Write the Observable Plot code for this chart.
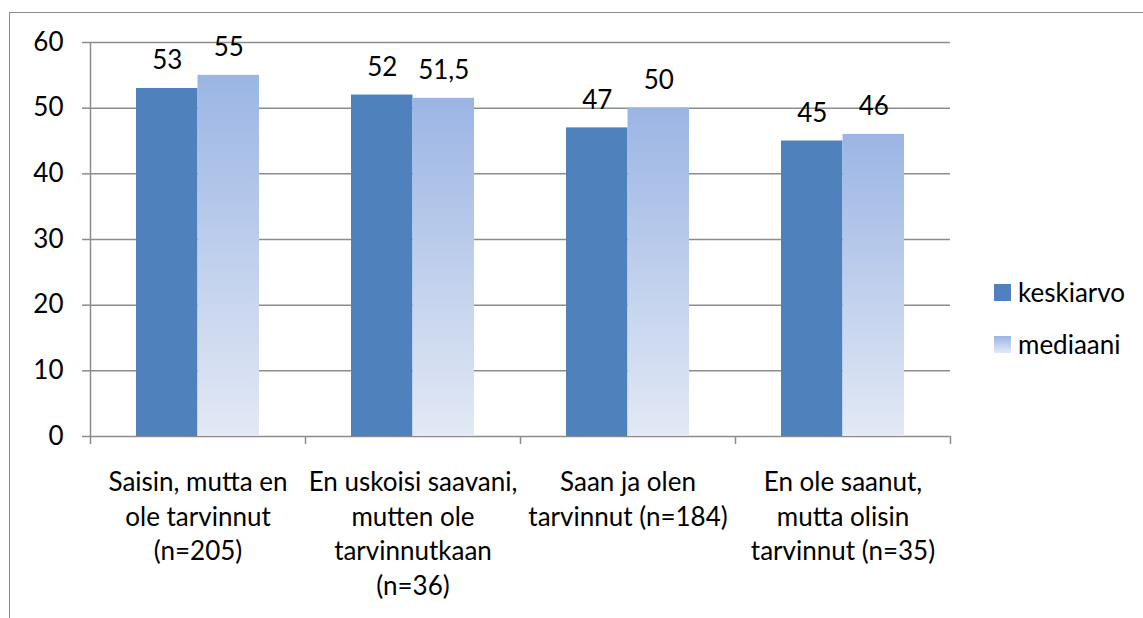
<!DOCTYPE html>
<html>
<head>
<meta charset="utf-8">
<script src="https://cdn.jsdelivr.net/npm/d3@7"></script>
<script src="https://cdn.jsdelivr.net/npm/@observablehq/plot@0.6"></script>
<style>
  html, body { margin: 0; padding: 0; background: #fff; }
  #wrap { position: relative; width: 1143px; height: 618px; overflow: hidden; font-family: Lato, "Open Sans", sans-serif; }
  #frame { position: absolute; left: 9px; top: 12px; right: -10px; bottom: -10px; border-top: 1.5px solid #8c8c8c; border-left: 1.5px solid #8c8c8c; pointer-events: none; }
  #legend { position: absolute; left: 994px; top: 278px; font-size: 26px; color: #000; }
  .li { display: flex; align-items: center; height: 28px; margin-bottom: 24px; }
  .sw { width: 17px; height: 17px; margin-right: 7px; }
</style>
</head>
<body>
<div id="wrap">
  <div id="chart"></div>
  <div id="frame"></div>
  <div id="legend"></div>
</div>
<script>
const categories = [
  "Saisin, mutta en\nole tarvinnut\n(n=205)",
  "En uskoisi saavani,\nmutten ole\ntarvinnutkaan\n(n=36)",
  "Saan ja olen\ntarvinnut (n=184)",
  "En ole saanut,\nmutta olisin\ntarvinnut (n=35)"
];
const series = ["keskiarvo", "mediaani"];
const keskiarvo = [53, 52, 47, 45];
const mediaani = [55, 51.5, 50, 46];
const valueLabels = {
  keskiarvo: ["53", "52", "47", "45"],
  mediaani: ["55", "51,5", "50", "46"]
};
const yTicks = [0, 10, 20, 30, 40, 50, 60];

const colors = { keskiarvo: "#4F81BD", mediaani: "url(#medGrad)" };

const W = 1143, H = 618, mL = 90, mR = 193, mT = 42, mB = 182;
const band = (W - mL - mR) / categories.length;
const barW = 61.5;
const gridColor = "#8c8c8c";
const font = "Lato, 'Open Sans', sans-serif";
const fs = 26;

const rows = [];
categories.forEach((c, i) => {
  rows.push({category: c, series: "keskiarvo", value: keskiarvo[i], label: valueLabels.keskiarvo[i]});
  rows.push({category: c, series: "mediaani", value: mediaani[i], label: valueLabels.mediaani[i]});
});
const kRows = rows.filter(d => d.series === "keskiarvo");
const mRows = rows.filter(d => d.series === "mediaani");

const chart = Plot.plot({
  width: W,
  height: H,
  marginLeft: mL,
  marginRight: mR,
  marginTop: mT,
  marginBottom: mB,
  style: { fontFamily: font, background: "transparent", overflow: "visible" },
  x: { type: "band", domain: categories, padding: 0, label: null },
  y: { type: "linear", domain: [0, 60], label: null },
  marks: [
    Plot.ruleY(yTicks, { y: d => d, stroke: gridColor, strokeWidth: 1.5 }),
    Plot.barY(kRows, { x: "category", y: "value", fill: colors.keskiarvo, insetLeft: band / 2 - barW, insetRight: band / 2 }),
    Plot.barY(mRows, { x: "category", y: "value", fill: colors.mediaani, insetLeft: band / 2, insetRight: band / 2 - barW }),
    Plot.text(kRows, { x: "category", y: "value", text: "label", dx: -barW / 2, dy: -19, lineAnchor: "bottom", fontSize: fs, fill: "#000" }),
    Plot.text(mRows, { x: "category", y: "value", text: "label", dx: barW / 2, dy: -19, lineAnchor: "bottom", fontSize: fs, fill: "#000" }),
    // y axis line
    Plot.ruleX([categories[0]], { x: d => d, dx: -band / 2, y1: 0, y2: 60, stroke: gridColor, strokeWidth: 1.5 }),
    // category boundary ticks (left edges + right end)
    Plot.ruleX(categories, { x: d => d, dx: -band / 2, y1: 0, y2: 0, insetBottom: -8, stroke: gridColor, strokeWidth: 1.5 }),
    Plot.ruleX([categories[categories.length - 1]], { x: d => d, dx: band / 2, y1: 0, y2: 0, insetBottom: -8, stroke: gridColor, strokeWidth: 1.5 }),
    Plot.axisY(yTicks, { tickSize: 8, tickPadding: 19, stroke: gridColor, strokeWidth: 1.5, fontSize: fs, fill: "#000", label: null, tickFormat: d => String(d) }),
    Plot.axisX({ tickSize: 0, tickPadding: 30, fontSize: fs, fill: "#000", lineHeight: 1.33, label: null })
  ]
});
document.getElementById("chart").appendChild(chart);

// gradient definition for the median bars
const svgNS = "http://www.w3.org/2000/svg";
const defs = document.createElementNS(svgNS, "defs");
defs.innerHTML = '<linearGradient id="medGrad" x1="0" y1="0" x2="0" y2="1"><stop offset="0" stop-color="#9BB5E4"/><stop offset="1" stop-color="#E3E9F5"/></linearGradient>';
chart.insertBefore(defs, chart.firstChild);

// legend
const legend = document.getElementById("legend");
series.forEach(s => {
  const li = document.createElement("div");
  li.className = "li";
  const sw = document.createElement("div");
  sw.className = "sw";
  sw.style.background = s === "keskiarvo" ? "#4F81BD" : "linear-gradient(#9BB5E4, #E3E9F5)";
  const t = document.createElement("span");
  t.textContent = s;
  li.appendChild(sw); li.appendChild(t);
  legend.appendChild(li);
});
</script>
</body>
</html>
